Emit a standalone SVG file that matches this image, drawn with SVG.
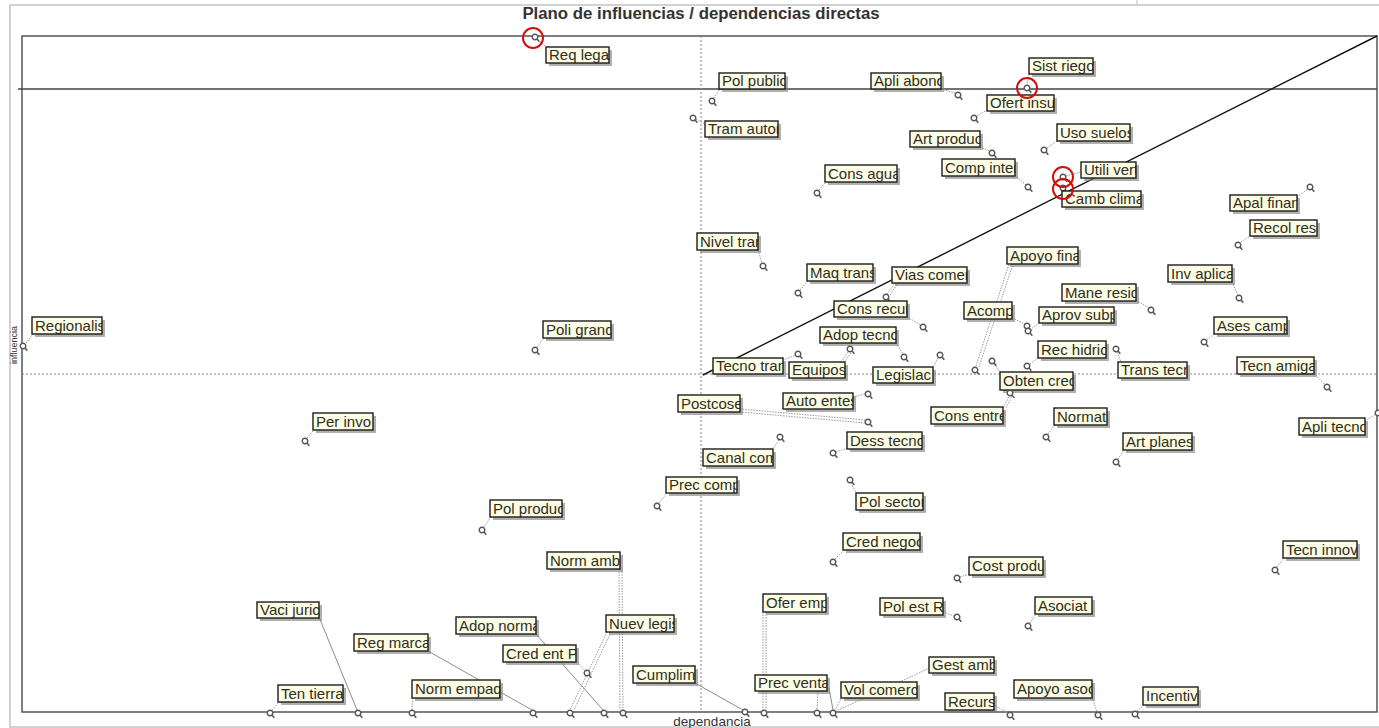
<svg xmlns="http://www.w3.org/2000/svg" xmlns:xlink="http://www.w3.org/1999/xlink" width="1379" height="728" viewBox="0 0 1379 728">
<style>
.sh{fill:#7c7c7c;opacity:.6}
.bx{fill:#fdfde6}
.bd{fill:none;stroke:#1c1c1c;stroke-width:1.4}
.t{font-family:"Liberation Sans",Arial,sans-serif;font-size:15px;fill:#2e2e22}
.c{stroke:#9a9a9a;stroke-width:1;stroke-dasharray:1.5 1.2;fill:none}
.cs{stroke:#8c8c8c;stroke-width:1;fill:none}
.rc{fill:none;stroke:#d01010;stroke-width:2}
.ax{font-family:"Liberation Sans",Arial,sans-serif;fill:#333}
</style>
<defs>
<g id="pt"><circle r="2.8" fill="#fff" stroke="#555" stroke-width="1.4"/><line x1="2" y1="2" x2="4.3" y2="4.8" stroke="#555" stroke-width="1.5"/></g>
</defs>
<rect width="1379" height="728" fill="#fff"/>
<g id="axes">
<rect x="10" y="5" width="1380" height="722" fill="none" stroke="#d2d2d2" stroke-width="2"/>
<line x1="1137" y1="0" x2="1137" y2="5" stroke="#bbb" stroke-width="1"/>
<rect x="22" y="36" width="1355" height="676" fill="none" stroke="#555" stroke-width="1.5"/>
<line x1="18" y1="89" x2="1377" y2="89" stroke="#444" stroke-width="1.5"/>
<line x1="701" y1="36" x2="701" y2="712" stroke="#888" stroke-width="1" stroke-dasharray="2 2"/>
<line x1="22" y1="374" x2="1377" y2="374" stroke="#888" stroke-width="1" stroke-dasharray="2 2"/>
<line x1="703" y1="375" x2="1377" y2="36" stroke="#111" stroke-width="1.4"/>
<text class="ax" x="701" y="19" font-size="16.8" font-weight="bold" text-anchor="middle" fill="#222">Plano de influencias / dependencias directas</text>
<text class="ax" x="712" y="726" font-size="13.5" text-anchor="middle">dependancia</text>
<text class="ax" transform="translate(17,345) rotate(-90)" font-size="9" text-anchor="middle" fill="#334">influencia</text>
</g>
<g id="connectors">
<line class="c" x1="538" y1="40" x2="546" y2="47"/>
<line class="c" x1="714" y1="98" x2="720" y2="89"/>
<line class="c" x1="696" y1="119" x2="705" y2="124"/>
<line class="c" x1="941" y1="89" x2="955" y2="93"/>
<line class="c" x1="1029" y1="74" x2="1027" y2="85"/>
<line class="c" x1="977" y1="116" x2="987" y2="110"/>
<line class="c" x1="980" y1="147" x2="990" y2="151"/>
<line class="c" x1="1015" y1="175" x2="1026" y2="185"/>
<line class="c" x1="1047" y1="148" x2="1057" y2="141"/>
<line class="c" x1="819" y1="190" x2="826" y2="182"/>
<line class="c" x1="1066" y1="176" x2="1081" y2="172"/>
<line class="c" x1="1297" y1="197" x2="1308" y2="189"/>
<line class="c" x1="1241" y1="242" x2="1250" y2="236"/>
<line class="c" x1="758" y1="250" x2="762" y2="263"/>
<line class="c" x1="800" y1="290" x2="808" y2="281"/>
<line class="c" x1="887" y1="294" x2="895" y2="283"/>
<line class="c" x1="890" y1="295" x2="898" y2="283"/>
<line class="c" x1="976" y1="366" x2="1009" y2="264"/>
<line class="c" x1="979" y1="367" x2="1013" y2="264"/>
<line class="c" x1="1232" y1="282" x2="1238" y2="295"/>
<line class="c" x1="1136" y1="300" x2="1149" y2="308"/>
<line class="c" x1="907" y1="317" x2="921" y2="325"/>
<line class="c" x1="1012" y1="318" x2="1025" y2="324"/>
<line class="c" x1="1030" y1="330" x2="1040" y2="322"/>
<line class="c" x1="26" y1="343" x2="33" y2="334"/>
<line class="c" x1="537" y1="347" x2="544" y2="338"/>
<line class="c" x1="1207" y1="340" x2="1215" y2="333"/>
<line class="c" x1="896" y1="343" x2="903" y2="354"/>
<line class="c" x1="848" y1="352" x2="841" y2="362"/>
<line class="c" x1="851" y1="353" x2="844" y2="362"/>
<line class="c" x1="1030" y1="364" x2="1039" y2="357"/>
<line class="c" x1="1117" y1="352" x2="1121" y2="362"/>
<line class="c" x1="783" y1="360" x2="796" y2="355"/>
<line class="c" x1="938" y1="358" x2="933" y2="368"/>
<line class="c" x1="1314" y1="373" x2="1325" y2="385"/>
<line class="c" x1="994" y1="364" x2="1001" y2="373"/>
<line class="c" x1="1003" y1="408" x2="1009" y2="396"/>
<line class="c" x1="1006" y1="408" x2="1012" y2="396"/>
<line class="c" x1="853" y1="397" x2="865" y2="394"/>
<line class="c" x1="740" y1="409" x2="865" y2="420"/>
<line class="c" x1="740" y1="412" x2="865" y2="423"/>
<line class="c" x1="1048" y1="434" x2="1055" y2="425"/>
<line class="c" x1="307" y1="438" x2="314" y2="430"/>
<line class="c" x1="1365" y1="421" x2="1376" y2="414"/>
<line class="c" x1="836" y1="452" x2="848" y2="448"/>
<line class="c" x1="1118" y1="459" x2="1124" y2="450"/>
<line class="c" x1="772" y1="450" x2="779" y2="440"/>
<line class="c" x1="659" y1="503" x2="667" y2="493"/>
<line class="c" x1="851" y1="483" x2="857" y2="494"/>
<line class="c" x1="484" y1="527" x2="491" y2="517"/>
<line class="c" x1="835" y1="559" x2="844" y2="550"/>
<line class="c" x1="1277" y1="567" x2="1284" y2="558"/>
<line class="c" x1="619" y1="569" x2="620" y2="710"/>
<line class="c" x1="622" y1="569" x2="623" y2="710"/>
<line class="c" x1="960" y1="577" x2="970" y2="574"/>
<line class="c" x1="763" y1="612" x2="763" y2="710"/>
<line class="c" x1="766" y1="612" x2="766" y2="710"/>
<line class="c" x1="943" y1="612" x2="954" y2="616"/>
<line class="c" x1="1030" y1="623" x2="1036" y2="614"/>
<line class="cs" x1="319" y1="617" x2="357" y2="710"/>
<line class="c" x1="607" y1="632" x2="570" y2="710"/>
<line class="c" x1="611" y1="632" x2="574" y2="710"/>
<line class="cs" x1="536" y1="634" x2="603" y2="710"/>
<line class="cs" x1="428" y1="651" x2="532" y2="710"/>
<line class="c" x1="576" y1="660" x2="585" y2="671"/>
<line class="c" x1="930" y1="668" x2="836" y2="711"/>
<line class="cs" x1="695" y1="683" x2="743" y2="710"/>
<line class="c" x1="818" y1="691" x2="817" y2="710"/>
<line class="c" x1="842" y1="697" x2="835" y2="710"/>
<line class="cs" x1="829" y1="688" x2="833" y2="710"/>
<line class="c" x1="1092" y1="697" x2="1097" y2="712"/>
<line class="c" x1="272" y1="710" x2="279" y2="702"/>
<line class="c" x1="413" y1="698" x2="412" y2="710"/>
<line class="c" x1="1137" y1="711" x2="1144" y2="705"/>
<line class="c" x1="994" y1="705" x2="1008" y2="713"/>
</g>
<g id="nodes">
<g id="n-req-lega"><use href="#pt" x="535" y="37"/><rect class="sh" x="549" y="50" width="63" height="16"/><svg x="546" y="47" width="63" height="16"><rect class="bx" width="100%" height="100%"/><text class="t" x="3" y="13">Req lega</text></svg><rect class="bd" x="546" y="47" width="63" height="16"/></g>
<g id="n-pol-public"><use href="#pt" x="712" y="101"/><rect class="sh" x="722" y="76" width="66" height="16"/><svg x="719" y="73" width="66" height="16"><rect class="bx" width="100%" height="100%"/><text class="t" x="3" y="13">Pol public</text></svg><rect class="bd" x="719" y="73" width="66" height="16"/></g>
<g id="n-tram-autor"><use href="#pt" x="693" y="118"/><rect class="sh" x="708" y="124" width="73" height="16"/><svg x="705" y="121" width="73" height="16"><rect class="bx" width="100%" height="100%"/><text class="t" x="3" y="13">Tram autor</text></svg><rect class="bd" x="705" y="121" width="73" height="16"/></g>
<g id="n-apli-abono"><use href="#pt" x="958" y="95"/><rect class="sh" x="874" y="76" width="70" height="16"/><svg x="871" y="73" width="70" height="16"><rect class="bx" width="100%" height="100%"/><text class="t" x="3" y="13">Apli abono</text></svg><rect class="bd" x="871" y="73" width="70" height="16"/></g>
<g id="n-sist-riego"><use href="#pt" x="1027" y="88"/><rect class="sh" x="1032" y="61" width="64" height="16"/><svg x="1029" y="58" width="64" height="16"><rect class="bx" width="100%" height="100%"/><text class="t" x="3" y="13">Sist riego</text></svg><rect class="bd" x="1029" y="58" width="64" height="16"/></g>
<g id="n-ofert-insu"><use href="#pt" x="974" y="118"/><rect class="sh" x="990" y="98" width="67" height="16"/><svg x="987" y="95" width="67" height="16"><rect class="bx" width="100%" height="100%"/><text class="t" x="3" y="13">Ofert insu</text></svg><rect class="bd" x="987" y="95" width="67" height="16"/></g>
<g id="n-art-produc"><use href="#pt" x="992" y="153"/><rect class="sh" x="913" y="134" width="70" height="16"/><svg x="910" y="131" width="70" height="16"><rect class="bx" width="100%" height="100%"/><text class="t" x="3" y="13">Art produc</text></svg><rect class="bd" x="910" y="131" width="70" height="16"/></g>
<g id="n-comp-inter"><use href="#pt" x="1028" y="187"/><rect class="sh" x="945" y="162" width="73" height="17"/><svg x="942" y="159" width="73" height="17"><rect class="bx" width="100%" height="100%"/><text class="t" x="3" y="13.5">Comp inter</text></svg><rect class="bd" x="942" y="159" width="73" height="17"/></g>
<g id="n-uso-suelos"><use href="#pt" x="1044" y="150"/><rect class="sh" x="1060" y="127" width="73" height="17"/><svg x="1057" y="124" width="73" height="17"><rect class="bx" width="100%" height="100%"/><text class="t" x="3" y="13.5">Uso suelos</text></svg><rect class="bd" x="1057" y="124" width="73" height="17"/></g>
<g id="n-cons-agua"><use href="#pt" x="817" y="193"/><rect class="sh" x="828" y="168" width="72" height="17"/><svg x="825" y="165" width="72" height="17"><rect class="bx" width="100%" height="100%"/><text class="t" x="3" y="13.5">Cons agua</text></svg><rect class="bd" x="825" y="165" width="72" height="17"/></g>
<g id="n-utili-vert"><use href="#pt" x="1063" y="177"/><rect class="sh" x="1084" y="165" width="55" height="16"/><svg x="1081" y="162" width="55" height="16"><rect class="bx" width="100%" height="100%"/><text class="t" x="3" y="13">Utili vert</text></svg><rect class="bd" x="1081" y="162" width="55" height="16"/></g>
<g id="n-camb-clima"><use href="#pt" x="1063" y="188"/><rect class="sh" x="1065" y="194" width="79" height="16"/><svg x="1062" y="191" width="79" height="16"><rect class="bx" width="100%" height="100%"/><text class="t" x="3" y="13">Camb clima</text></svg><rect class="bd" x="1062" y="191" width="79" height="16"/></g>
<g id="n-apal-finan"><use href="#pt" x="1310" y="187"/><rect class="sh" x="1233" y="198" width="67" height="16"/><svg x="1230" y="195" width="67" height="16"><rect class="bx" width="100%" height="100%"/><text class="t" x="3" y="13">Apal finan</text></svg><rect class="bd" x="1230" y="195" width="67" height="16"/></g>
<g id="n-recol-res"><use href="#pt" x="1238" y="245"/><rect class="sh" x="1253" y="223" width="67" height="16"/><svg x="1250" y="220" width="67" height="16"><rect class="bx" width="100%" height="100%"/><text class="t" x="3" y="13">Recol res</text></svg><rect class="bd" x="1250" y="220" width="67" height="16"/></g>
<g id="n-nivel-tran"><use href="#pt" x="763" y="266"/><rect class="sh" x="700" y="236" width="61" height="17"/><svg x="697" y="233" width="61" height="17"><rect class="bx" width="100%" height="100%"/><text class="t" x="3" y="13.5">Nivel tran</text></svg><rect class="bd" x="697" y="233" width="61" height="17"/></g>
<g id="n-maq-trans"><use href="#pt" x="798" y="293"/><rect class="sh" x="810" y="267" width="66" height="17"/><svg x="807" y="264" width="66" height="17"><rect class="bx" width="100%" height="100%"/><text class="t" x="3" y="13.5">Maq trans</text></svg><rect class="bd" x="807" y="264" width="66" height="17"/></g>
<g id="n-vias-comer"><use href="#pt" x="886" y="297"/><rect class="sh" x="895" y="270" width="75" height="16"/><svg x="892" y="267" width="75" height="16"><rect class="bx" width="100%" height="100%"/><text class="t" x="3" y="13">Vias comer</text></svg><rect class="bd" x="892" y="267" width="75" height="16"/></g>
<g id="n-apoyo-fina"><use href="#pt" x="975" y="370"/><rect class="sh" x="1010" y="250" width="71" height="17"/><svg x="1007" y="247" width="71" height="17"><rect class="bx" width="100%" height="100%"/><text class="t" x="3" y="13.5">Apoyo fina</text></svg><rect class="bd" x="1007" y="247" width="71" height="17"/></g>
<g id="n-inv-aplica"><use href="#pt" x="1239" y="298"/><rect class="sh" x="1171" y="268" width="64" height="17"/><svg x="1168" y="265" width="64" height="17"><rect class="bx" width="100%" height="100%"/><text class="t" x="3" y="13.5">Inv aplica</text></svg><rect class="bd" x="1168" y="265" width="64" height="17"/></g>
<g id="n-mane-resid"><use href="#pt" x="1151" y="310"/><rect class="sh" x="1065" y="287" width="74" height="17"/><svg x="1062" y="284" width="74" height="17"><rect class="bx" width="100%" height="100%"/><text class="t" x="3" y="13.5">Mane resid</text></svg><rect class="bd" x="1062" y="284" width="74" height="17"/></g>
<g id="n-cons-recur"><use href="#pt" x="923" y="327"/><rect class="sh" x="837" y="304" width="73" height="16"/><svg x="834" y="301" width="73" height="16"><rect class="bx" width="100%" height="100%"/><text class="t" x="3" y="13">Cons recur</text></svg><rect class="bd" x="834" y="301" width="73" height="16"/></g>
<g id="n-acomp"><use href="#pt" x="1027" y="326"/><rect class="sh" x="967" y="305" width="48" height="17"/><svg x="964" y="302" width="48" height="17"><rect class="bx" width="100%" height="100%"/><text class="t" x="3" y="13.5">Acomp</text></svg><rect class="bd" x="964" y="302" width="48" height="17"/></g>
<g id="n-aprov-subp"><use href="#pt" x="1028" y="331"/><rect class="sh" x="1042" y="310" width="75" height="16"/><svg x="1039" y="307" width="75" height="16"><rect class="bx" width="100%" height="100%"/><text class="t" x="3" y="13">Aprov subp</text></svg><rect class="bd" x="1039" y="307" width="75" height="16"/></g>
<g id="n-regionalis"><use href="#pt" x="23" y="346"/><rect class="sh" x="35" y="320" width="70" height="17"/><svg x="32" y="317" width="70" height="17"><rect class="bx" width="100%" height="100%"/><text class="t" x="3" y="13.5">Regionalis</text></svg><rect class="bd" x="32" y="317" width="70" height="17"/></g>
<g id="n-poli-grand"><use href="#pt" x="535" y="350"/><rect class="sh" x="546" y="324" width="68" height="17"/><svg x="543" y="321" width="68" height="17"><rect class="bx" width="100%" height="100%"/><text class="t" x="3" y="13.5">Poli grand</text></svg><rect class="bd" x="543" y="321" width="68" height="17"/></g>
<g id="n-ases-camp"><use href="#pt" x="1204" y="342"/><rect class="sh" x="1217" y="320" width="73" height="17"/><svg x="1214" y="317" width="73" height="17"><rect class="bx" width="100%" height="100%"/><text class="t" x="3" y="13.5">Ases camp</text></svg><rect class="bd" x="1214" y="317" width="73" height="17"/></g>
<g id="n-adop-tecno"><use href="#pt" x="904" y="357"/><rect class="sh" x="823" y="330" width="76" height="16"/><svg x="820" y="327" width="76" height="16"><rect class="bx" width="100%" height="100%"/><text class="t" x="3" y="13">Adop tecno</text></svg><rect class="bd" x="820" y="327" width="76" height="16"/></g>
<g id="n-equipos"><use href="#pt" x="850" y="349"/><rect class="sh" x="792" y="365" width="56" height="16"/><svg x="789" y="362" width="56" height="16"><rect class="bx" width="100%" height="100%"/><text class="t" x="3" y="13">Equipos</text></svg><rect class="bd" x="789" y="362" width="56" height="16"/></g>
<g id="n-rec-hidric"><use href="#pt" x="1027" y="366"/><rect class="sh" x="1041" y="344" width="68" height="17"/><svg x="1038" y="341" width="68" height="17"><rect class="bx" width="100%" height="100%"/><text class="t" x="3" y="13.5">Rec hidric</text></svg><rect class="bd" x="1038" y="341" width="68" height="17"/></g>
<g id="n-trans-tecn"><use href="#pt" x="1116" y="349"/><rect class="sh" x="1121" y="365" width="69" height="16"/><svg x="1118" y="362" width="69" height="16"><rect class="bx" width="100%" height="100%"/><text class="t" x="3" y="13">Trans tecn</text></svg><rect class="bd" x="1118" y="362" width="69" height="16"/></g>
<g id="n-tecno-tran"><use href="#pt" x="798" y="354"/><rect class="sh" x="716" y="361" width="70" height="16"/><svg x="713" y="358" width="70" height="16"><rect class="bx" width="100%" height="100%"/><text class="t" x="3" y="13">Tecno tran</text></svg><rect class="bd" x="713" y="358" width="70" height="16"/></g>
<g id="n-legislac"><use href="#pt" x="940" y="355"/><rect class="sh" x="876" y="370" width="60" height="16"/><svg x="873" y="367" width="60" height="16"><rect class="bx" width="100%" height="100%"/><text class="t" x="3" y="13">Legislac</text></svg><rect class="bd" x="873" y="367" width="60" height="16"/></g>
<g id="n-tecn-amiga"><use href="#pt" x="1327" y="387"/><rect class="sh" x="1240" y="360" width="77" height="17"/><svg x="1237" y="357" width="77" height="17"><rect class="bx" width="100%" height="100%"/><text class="t" x="3" y="13.5">Tecn amiga</text></svg><rect class="bd" x="1237" y="357" width="77" height="17"/></g>
<g id="n-obten-cred"><use href="#pt" x="992" y="361"/><rect class="sh" x="1003" y="375" width="73" height="18"/><svg x="1000" y="372" width="73" height="18"><rect class="bx" width="100%" height="100%"/><text class="t" x="3" y="14">Obten cred</text></svg><rect class="bd" x="1000" y="372" width="73" height="18"/></g>
<g id="n-cons-entre"><use href="#pt" x="1010" y="393"/><rect class="sh" x="934" y="410" width="72" height="17"/><svg x="931" y="407" width="72" height="17"><rect class="bx" width="100%" height="100%"/><text class="t" x="3" y="13.5">Cons entre</text></svg><rect class="bd" x="931" y="407" width="72" height="17"/></g>
<g id="n-auto-entes"><use href="#pt" x="868" y="394"/><rect class="sh" x="786" y="396" width="70" height="16"/><svg x="783" y="393" width="70" height="16"><rect class="bx" width="100%" height="100%"/><text class="t" x="3" y="13">Auto entes</text></svg><rect class="bd" x="783" y="393" width="70" height="16"/></g>
<g id="n-postcose"><use href="#pt" x="868" y="422"/><rect class="sh" x="681" y="398" width="62" height="17"/><svg x="678" y="395" width="62" height="17"><rect class="bx" width="100%" height="100%"/><text class="t" x="3" y="13.5">Postcose</text></svg><rect class="bd" x="678" y="395" width="62" height="17"/></g>
<g id="n-normati"><use href="#pt" x="1046" y="437"/><rect class="sh" x="1057" y="411" width="53" height="17"/><svg x="1054" y="408" width="53" height="17"><rect class="bx" width="100%" height="100%"/><text class="t" x="3" y="13.5">Normati</text></svg><rect class="bd" x="1054" y="408" width="53" height="17"/></g>
<g id="n-per-invo"><use href="#pt" x="305" y="441"/><rect class="sh" x="316" y="416" width="60" height="17"/><svg x="313" y="413" width="60" height="17"><rect class="bx" width="100%" height="100%"/><text class="t" x="3" y="13.5">Per invo</text></svg><rect class="bd" x="313" y="413" width="60" height="17"/></g>
<g id="n-apli-tecno"><use href="#pt" x="1378" y="413"/><rect class="sh" x="1302" y="421" width="66" height="17"/><svg x="1299" y="418" width="66" height="17"><rect class="bx" width="100%" height="100%"/><text class="t" x="3" y="13.5">Apli tecno</text></svg><rect class="bd" x="1299" y="418" width="66" height="17"/></g>
<g id="n-dess-tecno"><use href="#pt" x="833" y="453"/><rect class="sh" x="850" y="435" width="75" height="17"/><svg x="847" y="432" width="75" height="17"><rect class="bx" width="100%" height="100%"/><text class="t" x="3" y="13.5">Dess tecno</text></svg><rect class="bd" x="847" y="432" width="75" height="17"/></g>
<g id="n-art-planes"><use href="#pt" x="1116" y="462"/><rect class="sh" x="1126" y="436" width="69" height="17"/><svg x="1123" y="433" width="69" height="17"><rect class="bx" width="100%" height="100%"/><text class="t" x="3" y="13.5">Art planes</text></svg><rect class="bd" x="1123" y="433" width="69" height="17"/></g>
<g id="n-canal-com"><use href="#pt" x="780" y="437"/><rect class="sh" x="706" y="452" width="70" height="17"/><svg x="703" y="449" width="70" height="17"><rect class="bx" width="100%" height="100%"/><text class="t" x="3" y="13.5">Canal com</text></svg><rect class="bd" x="703" y="449" width="70" height="17"/></g>
<g id="n-prec-comp"><use href="#pt" x="657" y="506"/><rect class="sh" x="669" y="480" width="71" height="16"/><svg x="666" y="477" width="71" height="16"><rect class="bx" width="100%" height="100%"/><text class="t" x="3" y="13">Prec comp</text></svg><rect class="bd" x="666" y="477" width="71" height="16"/></g>
<g id="n-pol-sector"><use href="#pt" x="850" y="480"/><rect class="sh" x="859" y="496" width="67" height="17"/><svg x="856" y="493" width="67" height="17"><rect class="bx" width="100%" height="100%"/><text class="t" x="3" y="13.5">Pol sector</text></svg><rect class="bd" x="856" y="493" width="67" height="17"/></g>
<g id="n-pol-produc"><use href="#pt" x="482" y="530"/><rect class="sh" x="493" y="503" width="72" height="17"/><svg x="490" y="500" width="72" height="17"><rect class="bx" width="100%" height="100%"/><text class="t" x="3" y="13.5">Pol produc</text></svg><rect class="bd" x="490" y="500" width="72" height="17"/></g>
<g id="n-cred-negoc"><use href="#pt" x="833" y="562"/><rect class="sh" x="846" y="536" width="77" height="17"/><svg x="843" y="533" width="77" height="17"><rect class="bx" width="100%" height="100%"/><text class="t" x="3" y="13.5">Cred negoc</text></svg><rect class="bd" x="843" y="533" width="77" height="17"/></g>
<g id="n-tecn-innov"><use href="#pt" x="1275" y="570"/><rect class="sh" x="1286" y="544" width="74" height="17"/><svg x="1283" y="541" width="74" height="17"><rect class="bx" width="100%" height="100%"/><text class="t" x="3" y="13.5">Tecn innov</text></svg><rect class="bd" x="1283" y="541" width="74" height="17"/></g>
<g id="n-norm-amb"><use href="#pt" x="623" y="713"/><rect class="sh" x="550" y="555" width="73" height="17"/><svg x="547" y="552" width="73" height="17"><rect class="bx" width="100%" height="100%"/><text class="t" x="3" y="13.5">Norm amb</text></svg><rect class="bd" x="547" y="552" width="73" height="17"/></g>
<g id="n-cost-produ"><use href="#pt" x="957" y="578"/><rect class="sh" x="972" y="560" width="74" height="18"/><svg x="969" y="557" width="74" height="18"><rect class="bx" width="100%" height="100%"/><text class="t" x="3" y="14">Cost produ</text></svg><rect class="bd" x="969" y="557" width="74" height="18"/></g>
<g id="n-ofer-emp"><use href="#pt" x="764" y="713"/><rect class="sh" x="766" y="597" width="63" height="18"/><svg x="763" y="594" width="63" height="18"><rect class="bx" width="100%" height="100%"/><text class="t" x="3" y="14">Ofer emp</text></svg><rect class="bd" x="763" y="594" width="63" height="18"/></g>
<g id="n-pol-est-r"><use href="#pt" x="957" y="617"/><rect class="sh" x="883" y="601" width="63" height="17"/><svg x="880" y="598" width="63" height="17"><rect class="bx" width="100%" height="100%"/><text class="t" x="3" y="13.5">Pol est R</text></svg><rect class="bd" x="880" y="598" width="63" height="17"/></g>
<g id="n-asociat"><use href="#pt" x="1028" y="626"/><rect class="sh" x="1038" y="600" width="57" height="17"/><svg x="1035" y="597" width="57" height="17"><rect class="bx" width="100%" height="100%"/><text class="t" x="3" y="13.5">Asociat</text></svg><rect class="bd" x="1035" y="597" width="57" height="17"/></g>
<g id="n-vaci-juric"><use href="#pt" x="358" y="713"/><rect class="sh" x="260" y="605" width="62" height="16"/><svg x="257" y="602" width="62" height="16"><rect class="bx" width="100%" height="100%"/><text class="t" x="3" y="13">Vaci juric</text></svg><rect class="bd" x="257" y="602" width="62" height="16"/></g>
<g id="n-nuev-legis"><use href="#pt" x="570" y="713"/><rect class="sh" x="609" y="618" width="68" height="17"/><svg x="606" y="615" width="68" height="17"><rect class="bx" width="100%" height="100%"/><text class="t" x="3" y="13.5">Nuev legis</text></svg><rect class="bd" x="606" y="615" width="68" height="17"/></g>
<g id="n-adop-norma"><use href="#pt" x="604" y="713"/><rect class="sh" x="459" y="620" width="80" height="17"/><svg x="456" y="617" width="80" height="17"><rect class="bx" width="100%" height="100%"/><text class="t" x="3" y="13.5">Adop norma</text></svg><rect class="bd" x="456" y="617" width="80" height="17"/></g>
<g id="n-reg-marca"><use href="#pt" x="533" y="713"/><rect class="sh" x="357" y="637" width="74" height="17"/><svg x="354" y="634" width="74" height="17"><rect class="bx" width="100%" height="100%"/><text class="t" x="3" y="13.5">Reg marca</text></svg><rect class="bd" x="354" y="634" width="74" height="17"/></g>
<g id="n-cred-ent-p"><use href="#pt" x="587" y="673"/><rect class="sh" x="506" y="648" width="73" height="17"/><svg x="503" y="645" width="73" height="17"><rect class="bx" width="100%" height="100%"/><text class="t" x="3" y="13.5">Cred ent P</text></svg><rect class="bd" x="503" y="645" width="73" height="17"/></g>
<g id="n-gest-amb"><rect class="sh" x="932" y="660" width="65" height="16"/><svg x="929" y="657" width="65" height="16"><rect class="bx" width="100%" height="100%"/><text class="t" x="3" y="13">Gest amb</text></svg><rect class="bd" x="929" y="657" width="65" height="16"/></g>
<g id="n-cumplim"><use href="#pt" x="745" y="712"/><rect class="sh" x="636" y="669" width="62" height="17"/><svg x="633" y="666" width="62" height="17"><rect class="bx" width="100%" height="100%"/><text class="t" x="3" y="13.5">Cumplim</text></svg><rect class="bd" x="633" y="666" width="62" height="17"/></g>
<g id="n-prec-venta"><use href="#pt" x="817" y="713"/><rect class="sh" x="758" y="678" width="72" height="16"/><svg x="755" y="675" width="72" height="16"><rect class="bx" width="100%" height="100%"/><text class="t" x="3" y="13">Prec venta</text></svg><rect class="bd" x="755" y="675" width="72" height="16"/></g>
<g id="n-vol-comerc"><use href="#pt" x="833" y="713"/><rect class="sh" x="844" y="685" width="76" height="16"/><svg x="841" y="682" width="76" height="16"><rect class="bx" width="100%" height="100%"/><text class="t" x="3" y="13">Vol comerc</text></svg><rect class="bd" x="841" y="682" width="76" height="16"/></g>
<g id="n-apoyo-asoc"><use href="#pt" x="1098" y="715"/><rect class="sh" x="1017" y="683" width="78" height="18"/><svg x="1014" y="680" width="78" height="18"><rect class="bx" width="100%" height="100%"/><text class="t" x="3" y="14">Apoyo asoc</text></svg><rect class="bd" x="1014" y="680" width="78" height="18"/></g>
<g id="n-ten-tierra"><use href="#pt" x="270" y="713"/><rect class="sh" x="281" y="688" width="65" height="17"/><svg x="278" y="685" width="65" height="17"><rect class="bx" width="100%" height="100%"/><text class="t" x="3" y="13.5">Ten tierra</text></svg><rect class="bd" x="278" y="685" width="65" height="17"/></g>
<g id="n-norm-empaq"><use href="#pt" x="412" y="713"/><rect class="sh" x="415" y="683" width="88" height="18"/><svg x="412" y="680" width="88" height="18"><rect class="bx" width="100%" height="100%"/><text class="t" x="3" y="14">Norm empaq</text></svg><rect class="bd" x="412" y="680" width="88" height="18"/></g>
<g id="n-incentiv"><use href="#pt" x="1135" y="714"/><rect class="sh" x="1146" y="690" width="55" height="18"/><svg x="1143" y="687" width="55" height="18"><rect class="bx" width="100%" height="100%"/><text class="t" x="3" y="14">Incentiv</text></svg><rect class="bd" x="1143" y="687" width="55" height="18"/></g>
<g id="n-recurs"><use href="#pt" x="1010" y="715"/><rect class="sh" x="948" y="696" width="49" height="17"/><svg x="945" y="693" width="49" height="17"><rect class="bx" width="100%" height="100%"/><text class="t" x="3" y="13.5">Recurs</text></svg><rect class="bd" x="945" y="693" width="49" height="17"/></g>
</g>
<g id="highlights">
<circle class="rc" cx="533" cy="38" r="10"/>
<circle class="rc" cx="1027" cy="88" r="10"/>
<circle class="rc" cx="1063" cy="177" r="10"/>
<circle class="rc" cx="1063" cy="189" r="10"/>
</g>
</svg>
